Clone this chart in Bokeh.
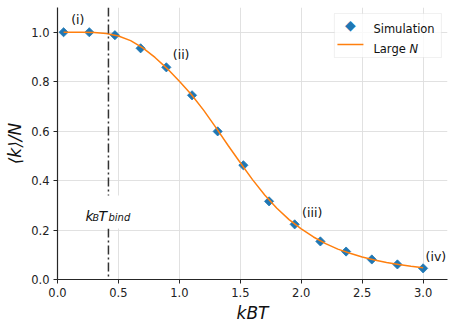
import math
from bokeh.plotting import figure
from bokeh.models import (Span, Label, BoxAnnotation, FixedTicker,
                          ColumnDataSource, Range1d)
from bokeh.embed import file_html
from bokeh.resources import INLINE

# ---------------- data ----------------
sim_T = [0.05, 0.261, 0.471, 0.682, 0.893, 1.104, 1.314, 1.525, 1.736,
         1.946, 2.157, 2.368, 2.579, 2.789, 3.0]
sim_k = [1.0, 1.0, 0.988, 0.935, 0.858, 0.745, 0.599, 0.462, 0.316,
         0.223, 0.154, 0.113, 0.081, 0.061, 0.045]

curve_T = [0.05, 0.2, 0.3, 0.4, 0.5, 0.6, 0.7, 0.8, 0.9, 1.0, 1.1, 1.2,
           1.3, 1.4, 1.5, 1.6, 1.7, 1.8, 1.9, 2.0, 2.1, 2.2, 2.3, 2.4,
           2.5, 2.6, 2.7, 2.8, 2.9, 3.0]
curve_k = [1.0, 1.0, 0.999, 0.995, 0.985, 0.966, 0.937, 0.898, 0.853,
           0.802, 0.747, 0.684, 0.614, 0.542, 0.472, 0.404, 0.342, 0.288,
           0.242, 0.205, 0.172, 0.145, 0.123, 0.106, 0.091, 0.079, 0.069,
           0.061, 0.054, 0.048]

T_bind = 0.418

x_ticks = [0.0, 0.5, 1.0, 1.5, 2.0, 2.5, 3.0]
x_tick_labels = ["0.0", "0.5", "1.0", "1.5", "2.0", "2.5", "3.0"]
y_ticks = [0.0, 0.2, 0.4, 0.6, 0.8, 1.0]
y_tick_labels = ["0.0", "0.2", "0.4", "0.6", "0.8", "1.0"]

x_title = "kBT"
y_title = "\u27e8k\u27e9/N"

regime_labels = ["(i)", "(ii)", "(iii)", "(iv)"]
regime_x = [0.112, 0.946, 2.007, 3.02]
regime_y = [1.0514, 0.908, 0.2717, 0.0942]

legend_labels = ["Simulation", "Large ", "N"]

FONT = "DejaVu Sans"
BLUE = "#1f77b4"
ORANGE = "#ff7f0e"
TXT = "#111111"

# ---------------- figure ----------------
p = figure(width=452, height=325, x_range=Range1d(0, 3.2), y_range=Range1d(0, 1.1),
           output_backend="svg", toolbar_location=None,
           min_border_left=57, min_border_right=5, min_border_top=7,
           min_border_bottom=46)
p.outline_line_color = None
p.background_fill_color = "white"

p.xaxis.ticker = FixedTicker(ticks=x_ticks)
p.yaxis.ticker = FixedTicker(ticks=y_ticks)
p.xaxis.major_label_overrides = dict(zip(x_ticks, x_tick_labels))
p.yaxis.major_label_overrides = dict(zip(y_ticks, y_tick_labels))
for ax in (p.xaxis[0], p.yaxis[0]):
    ax.minor_tick_line_color = None
    ax.major_tick_in = 0
    ax.major_tick_out = 4
    ax.major_tick_line_color = "#262626"
    ax.axis_line_color = "#262626"
    ax.axis_line_width = 1.2
    ax.major_tick_line_width = 1.0
    ax.major_label_text_font = FONT
    ax.major_label_text_font_size = "11.5px"
    ax.major_label_text_color = "#222222"
    ax.major_label_standoff = 4
    ax.axis_label_text_font = FONT
    ax.axis_label_text_font_size = "17px"
    ax.axis_label_text_font_style = "italic"
    ax.axis_label_text_color = TXT

p.xaxis.axis_label = x_title
p.yaxis.axis_label = y_title
p.xaxis.axis_label_standoff = 3
p.yaxis.axis_label_standoff = 3

p.grid.grid_line_color = "#dedede"
p.grid.grid_line_width = 0.9

src_sim = ColumnDataSource(dict(x=sim_T, y=sim_k))
src_cur = ColumnDataSource(dict(x=curve_T, y=curve_k))

sc = p.scatter("x", "y", source=src_sim, marker="square", angle=math.pi / 4,
               size=6.5, fill_color=BLUE, line_color=BLUE, line_width=0.8)
ln = p.line("x", "y", source=src_cur, line_color=ORANGE, line_width=1.5)

span = Span(location=T_bind, dimension="height", line_color="#333333",
            line_width=1.5, line_dash="9 3 2 3")
p.add_layout(span)

# white box behind k_B T_bind label
box = BoxAnnotation(left=0.16, right=0.69, bottom=0.206, top=0.340,
                    fill_color="white", fill_alpha=1.0, line_color=None)
p.add_layout(box)


def lab(text, x, y, size, italic=True, color=TXT, align="left",
        baseline="alphabetic"):
    L = Label(x=x, y=y, text=text, text_font=FONT,
              text_font_size=size, text_font_style="italic" if italic else "normal",
              text_color=color, text_baseline=baseline, text_align=align)
    p.add_layout(L)


# k_B T_bind
lab("k", 0.2297, 0.2588, "14px")
lab("B", 0.2871, 0.2507, "9.5px")
lab("T", 0.3363, 0.2588, "14px")
lab("bind", 0.4184, 0.2507, "10px")

# regime labels
for t, xx, yy in zip(regime_labels, regime_x, regime_y):
    lab(t, xx, yy, "12.5px", italic=False)

# ---- legend (drawn by hand so the key matches the diamond marker) ----
leg_box = BoxAnnotation(left=2.272, right=3.150, bottom=0.8977, top=1.0756,
                        fill_color="white", fill_alpha=0.8,
                        line_color="#cccccc", line_width=1)
p.add_layout(leg_box)
leg_line = BoxAnnotation(left=2.2969, right=2.5102, bottom=0.9473, top=0.9533,
                         fill_color=ORANGE, fill_alpha=1.0, line_color=None)
p.add_layout(leg_line)
lab("\u25c6", 2.4036, 1.0311, "14px", italic=False, color=BLUE,
    align="center", baseline="middle")
lab(legend_labels[0], 2.592, 1.015, "11.5px", italic=False)
lab(legend_labels[1], 2.592, 0.9329, "11.5px", italic=False)
lab(legend_labels[2], 2.889, 0.9329, "11.5px", italic=True)

open("out.html", "w").write(file_html(p, INLINE))
